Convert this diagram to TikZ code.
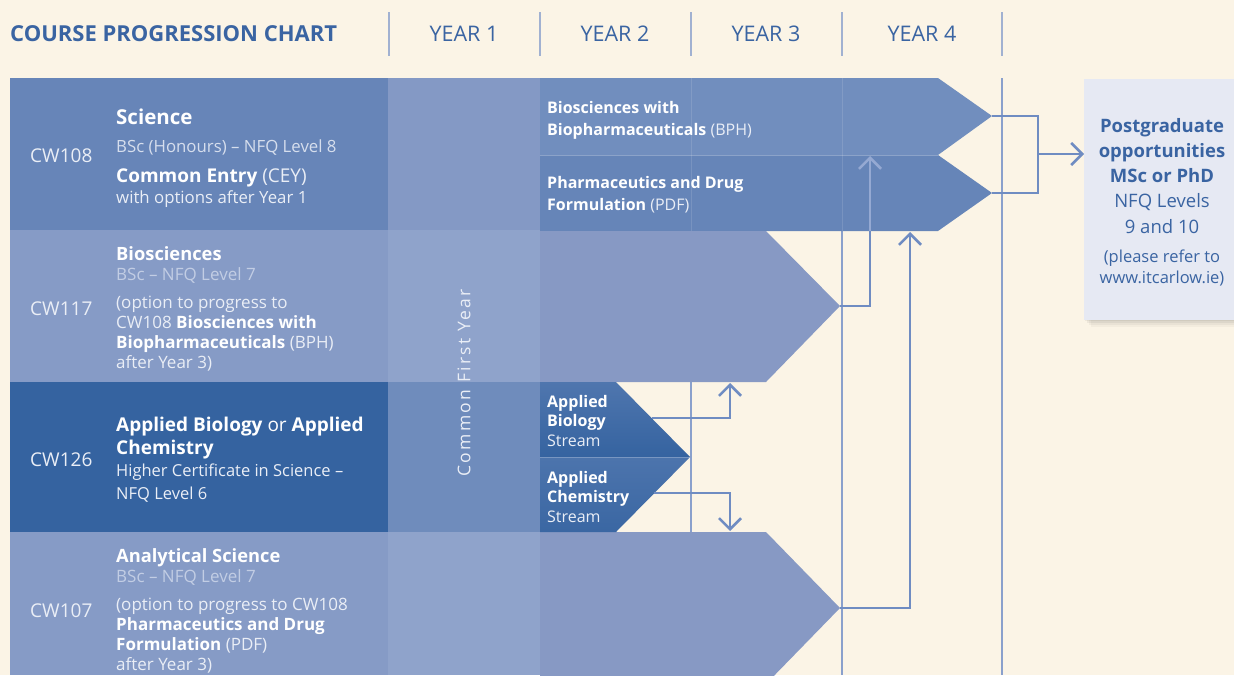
\documentclass[tikz,border=0pt]{standalone}
\usepackage{fontspec}
\setmainfont{Open Sans}
\usetikzlibrary{arrows.meta, positioning}

\definecolor{paper}{HTML}{FBF4E6}
\definecolor{ink}{HTML}{3A64A2}
\definecolor{rowmid}{HTML}{6785B8}
\definecolor{rowpale}{HTML}{869BC6}
\definecolor{rowdark}{HTML}{3563A0}
\definecolor{cfytop}{HTML}{8499C5}
\definecolor{cfypale}{HTML}{8FA3CB}
\definecolor{cfydark}{HTML}{6F8CBC}
\definecolor{bphfill}{HTML}{718EBE}
\definecolor{pdffill}{HTML}{6685B8}
\definecolor{optfill}{HTML}{8799C4}
\definecolor{streamtop}{HTML}{4F76AE}
\definecolor{linkblue}{HTML}{6F8CC2}
\definecolor{linkpale}{HTML}{95A9D2}
\definecolor{rulecol}{HTML}{8AA0CC}
\definecolor{dimtext}{HTML}{C2CDE4}
\definecolor{softtext}{HTML}{EAEEF6}
\definecolor{pgfill}{HTML}{E6E9F3}

\begin{document}
\begin{tikzpicture}[
  x=1pt, y=-1pt,
  yearhdr/.style={text=ink, font=\fontsize{21.5}{24}\selectfont, anchor=base, inner sep=0pt},
  coursecode/.style={text=softtext, font=\fontsize{19}{22}\selectfont, anchor=base west, inner sep=0pt},
  rowtitle/.style={text=white, font=\bfseries\fontsize{18.3}{23}\selectfont, anchor=base west, inner sep=0pt, align=left},
  rowtext/.style={text=softtext, font=\fontsize{17}{20}\selectfont, anchor=base west, inner sep=0pt, align=left},
  optname/.style={text=softtext, font=\fontsize{16}{22}\selectfont, anchor=base west, inner sep=0pt, align=left},
  flow/.style={draw=linkblue, line width=2.6pt},
  arr/.style={-{Straight Barb[length=11pt, width=22pt]}},
  yearline/.style={draw=rulecol, line width=1.3pt}
]
\useasboundingbox (0,0) rectangle (1234,675);
\fill[paper] (0,0) rectangle (1234,675);

% header
\node[text=ink, font=\bfseries\fontsize{22}{24}\selectfont, anchor=base west, inner sep=0pt] (chart) at (10,41) {COURSE PROGRESSION CHART};
\node[yearhdr] (y1) at (464,41) {YEAR 1};
\node[yearhdr] (y2) at (615,41) {YEAR 2};
\node[yearhdr] (y3) at (766,41) {YEAR 3};
\node[yearhdr] (y4) at (922,41) {YEAR 4};
\foreach \gx in {389,540,691,842,1002}
  \draw[yearline, draw=rulecol!80!paper] (\gx,12) -- (\gx,56);
\foreach \gx in {691,842,1002}
  \draw[yearline] (\gx,78) -- (\gx,675);

% left column
\fill[rowmid] (10,78) rectangle (388,230);
\fill[rowpale] (10,230) rectangle (388,382);
\fill[rowdark] (10,382) rectangle (388,532);
\fill[rowpale] (10,532) rectangle (388,675);
\fill[cfytop] (388,78) rectangle (540,230);
\fill[cfypale] (388,230) rectangle (540,382);
\fill[cfydark] (388,382) rectangle (540,532);
\fill[cfypale] (388,532) rectangle (540,675);

% options
\fill[bphfill] (540,78) -- (938,78) -- (992,116) -- (938,155) -- (540,155) -- cycle;
\fill[pdffill] (540,155) -- (938,155) -- (992,193) -- (938,231) -- (540,231) -- cycle;
\fill[optfill] (540,231) -- (766,231) -- (840,306) -- (766,382) -- (540,382) -- cycle;
\fill[optfill] (540,532) -- (766,532) -- (840,608) -- (766,684) -- (540,684) -- cycle;
\shade[top color=streamtop, bottom color=rowdark] (540,382) -- (616,382) -- (690,457) -- (540,457) -- cycle;
\shade[top color=streamtop!90!rowdark, bottom color=rowdark!80!streamtop] (540,457) -- (690,457) -- (616,532) -- (540,532) -- cycle;
\draw[white, opacity=0.25, line width=1pt] (540,155) -- (938,155) (540,457) -- (690,457);
\draw[white, opacity=0.12, line width=1pt] (691,78) -- (691,231) (842,78) -- (842,231);

% postgraduate box
\foreach \s/\o in {1/0.05, 3/0.05, 5/0.04, 7/0.03}
  \fill[black, opacity=\o] ({1084+\s},{79+\s}) rectangle (1240,{320+\s});
\node[fill=pgfill, minimum width=156pt, minimum height=241pt, anchor=north west, inner sep=0pt] (pg) at (1084,79) {};

\coordinate (bphtip) at (992,116);
\coordinate (pdftip) at (992,193);
\coordinate (merge) at (1038,154);
\coordinate (biotip) at (840,306);
\coordinate (biojoin) at (870,231);
\coordinate (bphfoot) at (870,156);
\coordinate (anatip) at (840,608);
\coordinate (pdffoot) at (910,232);
\coordinate (biostem) at (652,418);
\coordinate (biohead) at (730,383);
\coordinate (chemstem) at (654,493);
\coordinate (chemhead) at (730,531);

\draw[flow] (bphtip) -| (merge) |- (pdftip);
\draw[flow, arr] (merge) -- (merge -| pg.west);
\draw[flow] (biotip) -| (biojoin);
\draw[flow, draw=linkpale, arr] (biojoin) -- (bphfoot);
\draw[flow, arr] (anatip) -| (pdffoot);
\draw[flow, arr] (biostem) -| (biohead);
\draw[flow, arr] (chemstem) -| (chemhead);

% CW108 (multi-line nodes sit on their last baseline)
\node[coursecode] (cw108) at (30,162) {CW108};
\node[rowtitle, font=\bfseries\fontsize{20.5}{24}\selectfont] (sci) at (116,124) {Science};
\node[rowtext, font=\fontsize{16.8}{21}\selectfont] (scitext) at (116,203) {\textcolor{softtext!85!rowmid}{BSc (Honours) – NFQ Level 8}\\[9pt]{\fontsize{19}{21}\selectfont\textcolor{white}{\textbf{Common Entry}} (CEY)}\\with options after Year 1};

% CW117
\node[coursecode] (cw117) at (30,315) {CW117};
\node[rowtitle] (bio) at (116,260) {Biosciences};
\node[rowtext] (biotext) at (116,368) {\textcolor{dimtext}{BSc – NFQ Level 7}\\[8pt](option to progress to\\CW108 \textcolor{white}{\textbf{Biosciences with}}\\\textcolor{white}{\textbf{Biopharmaceuticals}} (BPH)\\after Year 3)};

% CW126
\node[coursecode] (cw126) at (30,466) {CW126};
\node[rowtitle, font=\bfseries\fontsize{19}{23}\selectfont] (appl) at (116,454) {Applied Biology {\mdseries or} Applied\\Chemistry};
\node[rowtext, font=\fontsize{16.5}{23}\selectfont] (appltext) at (116,499) {Higher Certificate in Science –\\NFQ Level 6};

% CW107
\node[coursecode] (cw107) at (30,617) {CW107};
\node[rowtitle] (ana) at (116,562) {Analytical Science};
\node[rowtext] (anatext) at (116,670) {\textcolor{dimtext}{BSc – NFQ Level 7}\\[8pt](option to progress to CW108\\\textcolor{white}{\textbf{Pharmaceutics and Drug}}\\\textcolor{white}{\textbf{Formulation}} (PDF)\\after Year 3)};

\node[rotate=90, text=softtext, inner sep=0pt, font=\fontsize{17.5}{20}\selectfont\addfontfeature{LetterSpace=13}] (cfy) at (464,383) {Common First Year};

% option names
\node[optname] (bphname) at (547,135) {\textcolor{white}{\textbf{Biosciences with}}\\\textcolor{white}{\textbf{Biopharmaceuticals}} (BPH)};
\node[optname] (pdfname) at (547,210) {\textcolor{white}{\textbf{Pharmaceutics and Drug}}\\\textcolor{white}{\textbf{Formulation}} (PDF)};
\node[optname, font=\fontsize{16}{19.5}\selectfont] (bioname) at (547,446) {\textcolor{white}{\textbf{Applied}}\\\textcolor{white}{\textbf{Biology}}\\Stream};
\node[optname, font=\fontsize{16}{19.5}\selectfont] (chemname) at (547,522) {\textcolor{white}{\textbf{Applied}}\\\textcolor{white}{\textbf{Chemistry}}\\Stream};

\node[text=ink, font=\fontsize{18.5}{25.2}\selectfont, align=center, anchor=base, inner sep=0pt] (pgtext) at (1162,233) {\textbf{Postgraduate}\\\textbf{opportunities}\\\textbf{MSc or PhD}\\NFQ Levels\\9 and 10};
\node[text=ink, font=\fontsize{16.5}{21}\selectfont, align=center, anchor=base, inner sep=0pt] (pgnote) at (1162,283) {(please refer to\\www.itcarlow.ie)};
\end{tikzpicture}
\end{document}
